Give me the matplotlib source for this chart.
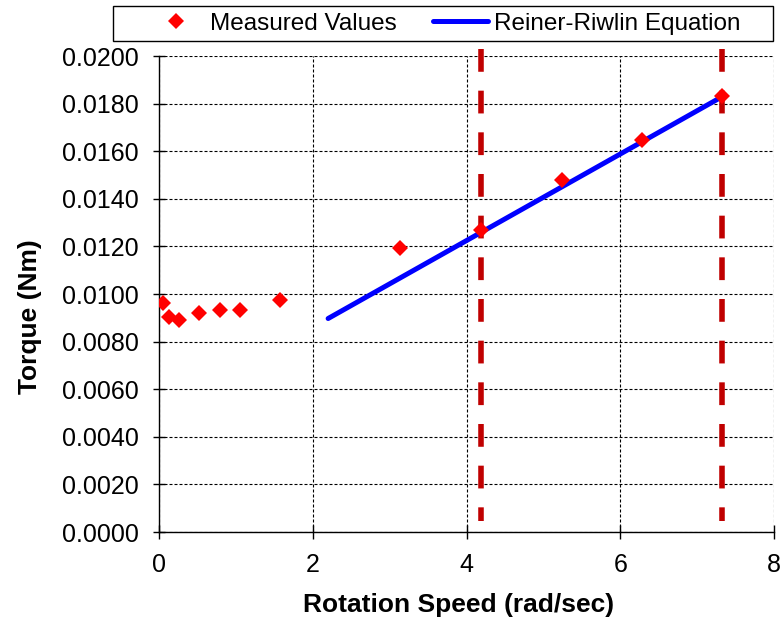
import matplotlib
matplotlib.use("Agg")
import matplotlib.pyplot as plt
from matplotlib.patches import Rectangle
from matplotlib.ticker import FormatStrFormatter

plt.rcParams['font.family'] = ['Liberation Sans', 'DejaVu Sans']

# Measured torque at each rotation speed
speed_measured = [0.05, 0.13, 0.26, 0.52, 0.79, 1.05, 1.57, 3.14, 4.19, 5.24, 6.28, 7.33]
torque_measured = [0.00962, 0.00903, 0.00891, 0.00920, 0.00931, 0.00931,
                   0.00975, 0.01193, 0.01269, 0.01479, 0.01647, 0.01832]

# Reiner-Riwlin prediction
speed_model = [2.20, 3.14, 4.19, 5.24, 6.28, 7.33]
torque_model = [0.00897, 0.01068, 0.01259, 0.01450, 0.01639, 0.01830]

# Speeds marked by vertical reference lines and their vertical extent
limit_speeds = [4.19, 7.33]
limit_span = [0.0203, 0.00045]

x_ticks = [0, 2, 4, 6, 8]
y_ticks = [i * 0.002 for i in range(11)]

W, H = 782, 618
fig = plt.figure(figsize=(W / 100, H / 100), dpi=100)
ax = fig.add_axes([159 / W, (H - 532) / H, (774 - 159) / W, (532 - 56) / H])

ax.plot(speed_measured, torque_measured, linestyle='none', marker='D',
        markersize=8.3, markeredgewidth=0, color='#FF0000',
        label='Measured Values', zorder=4)
ax.plot(speed_model, torque_model, color='#0000FF', linewidth=3.6,
        solid_capstyle='round', label='Reiner-Riwlin Equation', zorder=3)

for s in limit_speeds:
    ax.plot([s, s], limit_span, color='#C00000', linewidth=4.0,
            dashes=(4.1, 3.4), dash_capstyle='butt', clip_on=False, zorder=2)

ax.set_xlim(0, 8)
ax.set_ylim(0, 0.02)
ax.set_xticks(x_ticks)
ax.set_yticks(y_ticks)
ax.yaxis.set_major_formatter(FormatStrFormatter('%.4f'))

ax.grid(True, color='black', linewidth=0.8, linestyle=(0, (2.7, 1.8)), zorder=1)
ax.set_axisbelow(True)
for side in ('top', 'right'):
    ax.spines[side].set_visible(False)
for side in ('left', 'bottom'):
    ax.spines[side].set_linewidth(1.0)
    ax.spines[side].set_color('black')

ax.tick_params(axis='both', labelsize=18, colors='black', direction='inout', width=1.0)
ax.tick_params(axis='y', length=8.6, pad=10.5)
ax.tick_params(axis='x', length=10, pad=10)

ax.set_xlabel('Rotation Speed (rad/sec)', fontsize=19, fontweight='bold')
ax.xaxis.label.set_va('baseline')
ax.xaxis.set_label_coords((458.5 - 159) / 615, (532 - 612) / 476)
ax.set_ylabel('Torque (Nm)', fontsize=19, fontweight='bold')
ax.yaxis.label.set_va('center')
ax.yaxis.set_label_coords((30.5 - 159) / 615, (532 - 316.5) / 476)

# Legend strip above the plot
handles, labels = ax.get_legend_handles_labels()
fig.legend(handles, labels, loc='center left',
           bbox_to_anchor=(148.5 / W, 1 - 23.5 / H), frameon=False, ncol=2,
           fontsize=17.5, handlelength=2.26, handletextpad=0.25,
           columnspacing=1.5, borderpad=0, borderaxespad=0)
fig.patches.append(Rectangle((112.7 / W, (H - 40.7) / H), (773 - 112.7) / W,
                             34.7 / H, transform=fig.transFigure,
                             fill=False, edgecolor='black', linewidth=1.0))

fig.savefig('out.png', dpi=100)
